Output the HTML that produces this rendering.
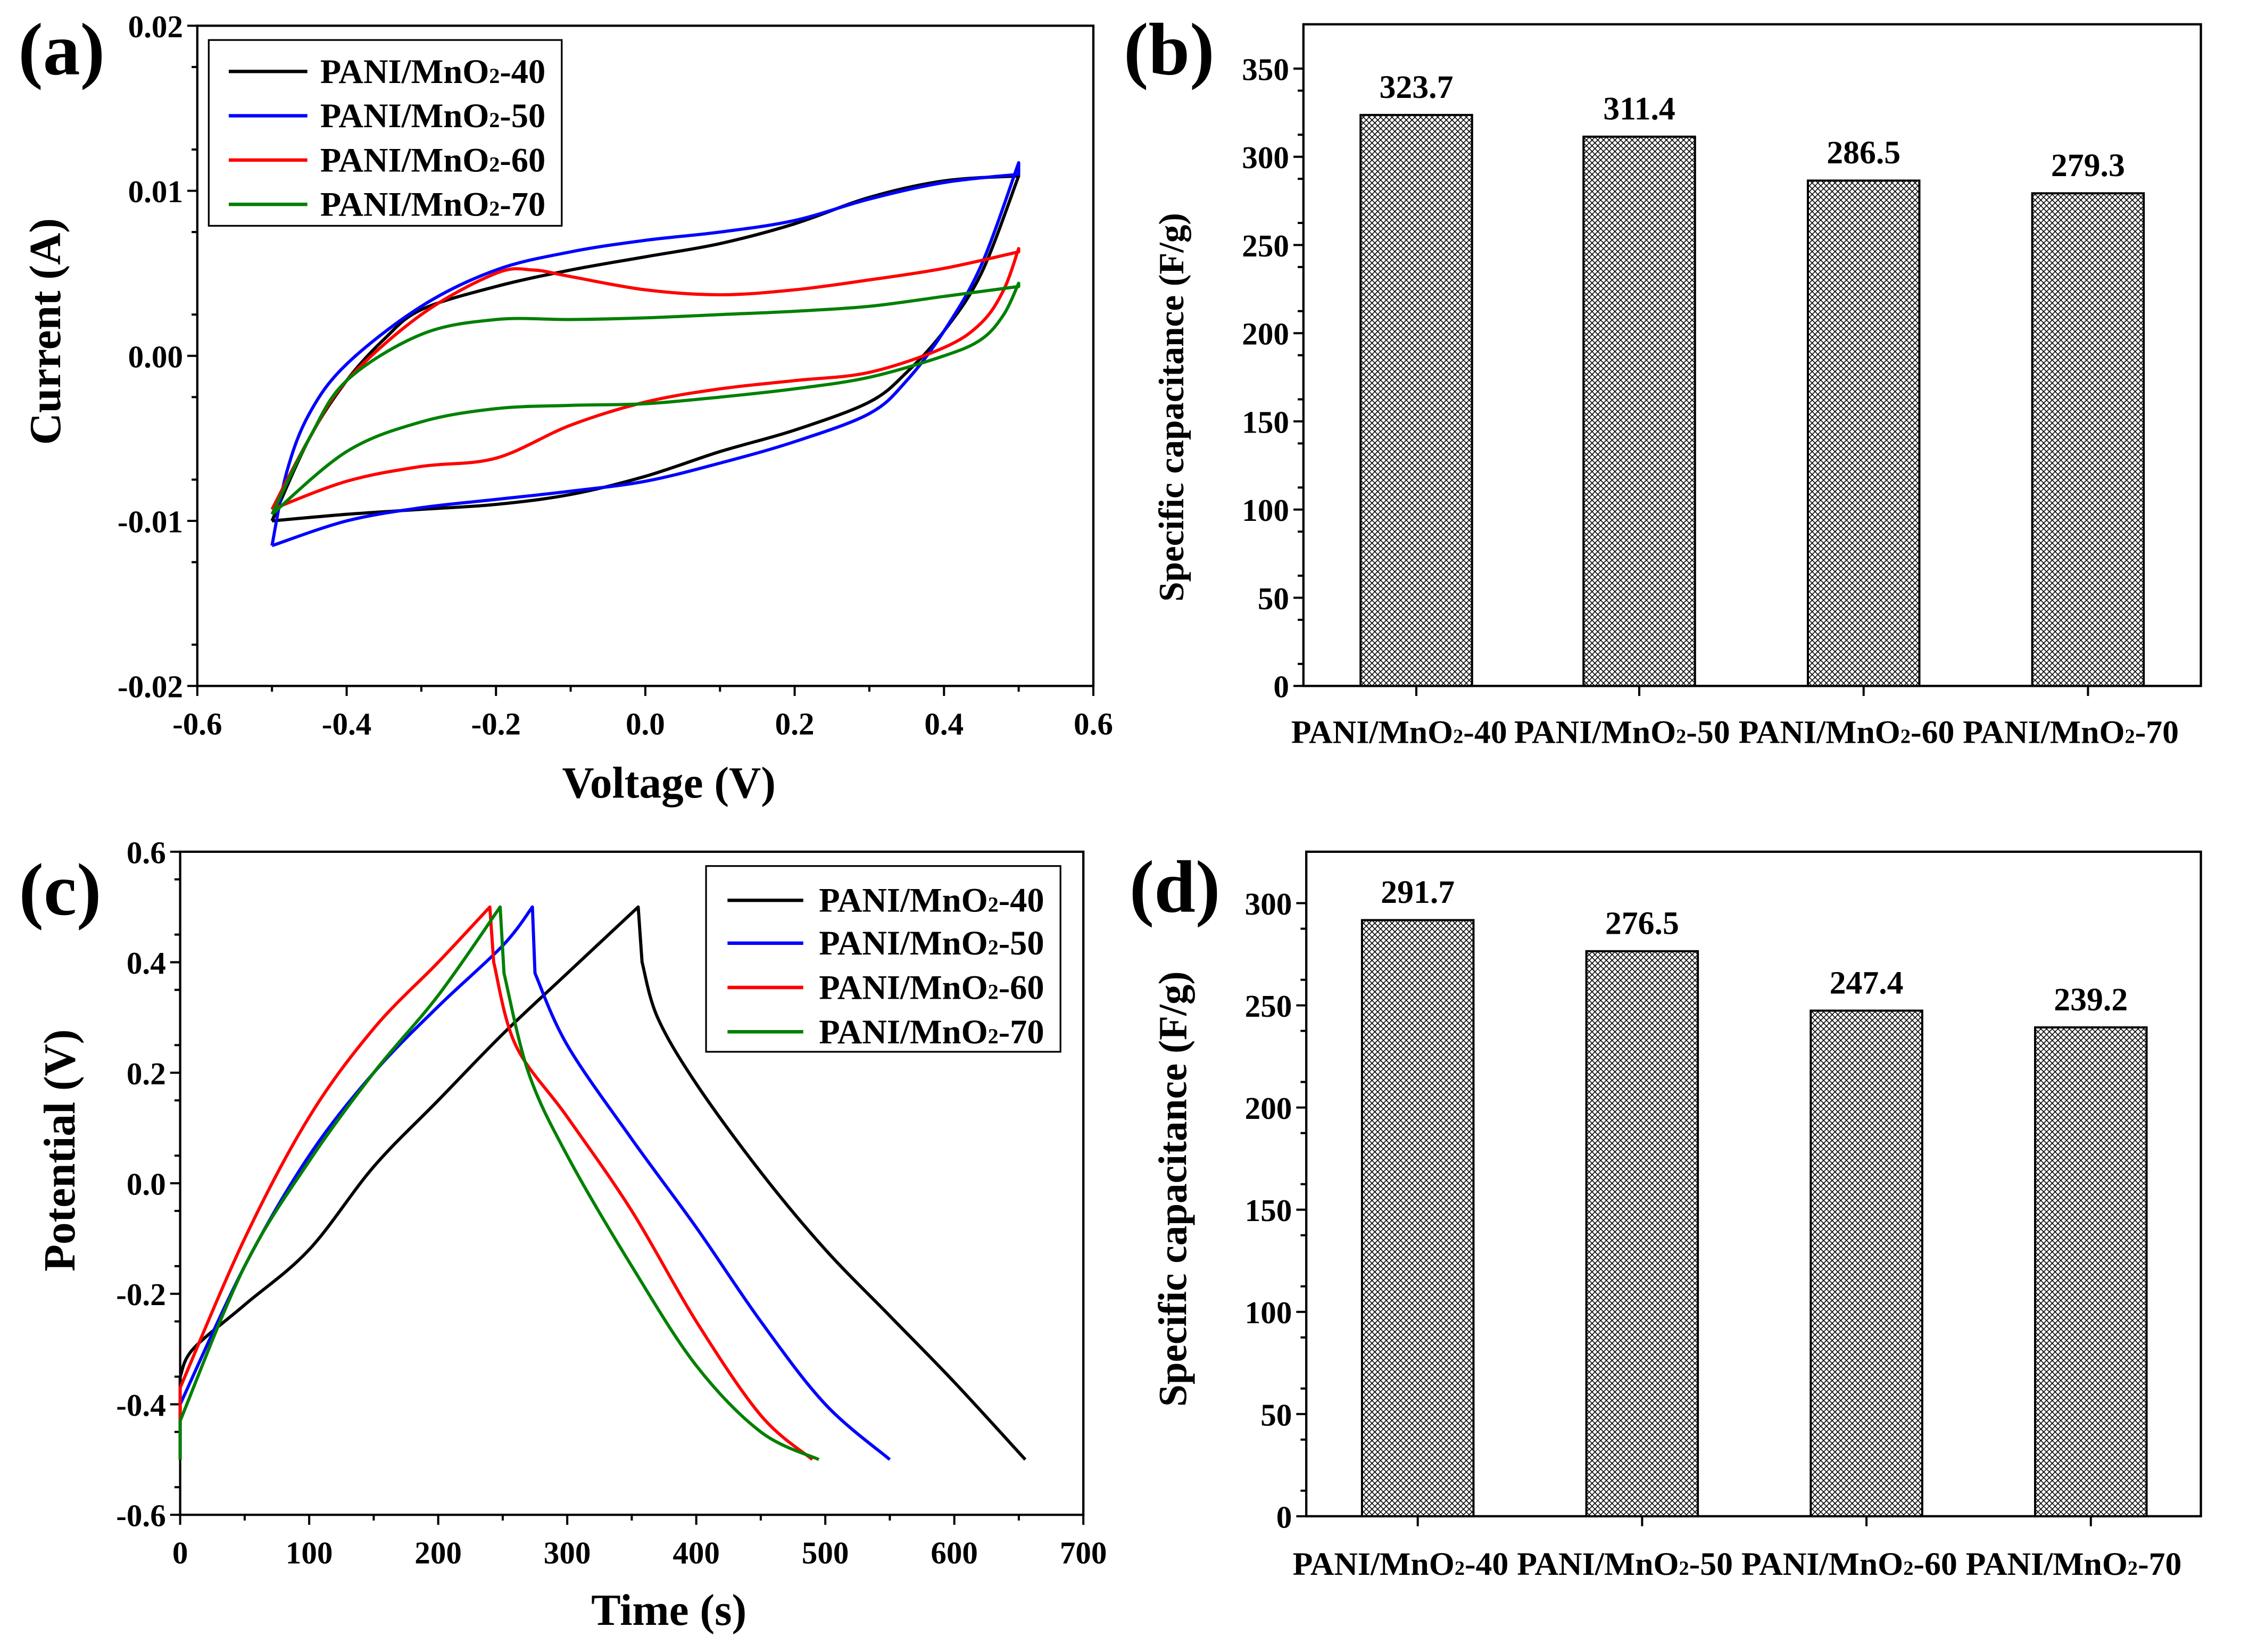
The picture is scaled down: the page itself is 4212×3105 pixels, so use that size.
<!DOCTYPE html>
<html><head><meta charset="utf-8"><style>html,body{margin:0;padding:0;background:#fff}svg{display:block}</style></head>
<body>
<svg id="fig" width="4212" height="3105" viewBox="0 0 1568 1156" xmlns="http://www.w3.org/2000/svg" font-family="'Liberation Serif', serif" font-weight="bold">
<defs>
<pattern id="hatch" patternUnits="userSpaceOnUse" width="4" height="4">
<rect width="4" height="4" fill="#fff"/>
<path d="M0,0 L4,4 M4,0 L0,4" stroke="#000" stroke-width="0.6"/>
</pattern>
</defs>
<rect width="1568" height="1156" fill="#fff"/>
</svg>
<script>
// ---- Data ----
const cvSeriesNames = ["PANI/MnO2-40","PANI/MnO2-50","PANI/MnO2-60","PANI/MnO2-70"];
const seriesColors = ["#000","#0000ff","#ff0000","#008000"];
const cv40 = [[-0.5,-10],[-0.45,-5],[-0.4,-1.5],[-0.35,1],[-0.3,2.8],[-0.2,4.2],[-0.1,5.2],[0,6],[0.1,6.8],[0.2,8],[0.3,9.6],[0.4,10.6],[0.5,10.9],[0.45,5],[0.4,1.5],[0.35,-1],[0.3,-2.8],[0.2,-4.5],[0.1,-5.8],[0,-7.3],[-0.1,-8.4],[-0.2,-9],[-0.3,-9.3],[-0.4,-9.6],[-0.5,-10]];
const cv50 = [[-0.5,-11.5],[-0.48,-7],[-0.45,-3.5],[-0.4,-0.5],[-0.3,3],[-0.2,5.2],[-0.1,6.3],[0,7],[0.1,7.5],[0.2,8.2],[0.3,9.5],[0.4,10.5],[0.5,11],[0.5,11.7],[0.45,5.5],[0.4,1.5],[0.35,-1.5],[0.3,-3.5],[0.2,-5.2],[0.1,-6.5],[0,-7.6],[-0.1,-8.2],[-0.2,-8.7],[-0.3,-9.2],[-0.4,-10],[-0.5,-11.5]];
const cv60 = [[-0.5,-9.3],[-0.45,-5],[-0.4,-1.5],[-0.3,2.5],[-0.2,5],[-0.15,5.2],[-0.1,4.8],[0,4],[0.1,3.7],[0.2,4],[0.3,4.6],[0.4,5.3],[0.5,6.3],[0.5,6.5],[0.48,4],[0.45,2],[0.4,0.5],[0.3,-1],[0.2,-1.5],[0.1,-2],[0,-2.8],[-0.1,-4.2],[-0.2,-6.2],[-0.3,-6.7],[-0.4,-7.6],[-0.5,-9.3]];
const cv70 = [[-0.5,-9.6],[-0.45,-5],[-0.4,-1.5],[-0.3,1.3],[-0.2,2.2],[-0.1,2.2],[0,2.3],[0.1,2.5],[0.2,2.7],[0.3,3],[0.4,3.6],[0.5,4.2],[0.5,4.4],[0.48,2.5],[0.45,1],[0.4,0],[0.3,-1.3],[0.2,-2],[0.1,-2.5],[0,-2.9],[-0.1,-3],[-0.2,-3.2],[-0.3,-4],[-0.4,-5.8],[-0.5,-9.6]];
const gcd40 = [[0,-0.5],[0,-0.35],[10,-0.3],[50,-0.22],[100,-0.12],[150,0.03],[200,0.15],[250,0.27],[300,0.38],[355,0.5],[358,0.4],[370,0.3],[400,0.18],[450,0.02],[500,-0.12],[550,-0.24],[600,-0.36],[655,-0.5]];
const gcd50 = [[0,-0.5],[0,-0.4],[50,-0.15],[100,0.05],[150,0.2],[200,0.32],[250,0.43],[273,0.5],[275,0.38],[300,0.25],[350,0.08],[400,-0.08],[450,-0.25],[500,-0.4],[550,-0.5]];
const gcd60 = [[0,-0.5],[0,-0.37],[50,-0.1],[100,0.12],[150,0.28],[200,0.4],[240,0.5],[243,0.4],[260,0.25],[300,0.12],[350,-0.05],[400,-0.25],[450,-0.42],[490,-0.5]];
const gcd70 = [[0,-0.5],[0,-0.43],[50,-0.15],[100,0.04],[150,0.2],[200,0.34],[248,0.5],[251,0.38],[270,0.2],[300,0.05],[350,-0.15],[400,-0.33],[450,-0.45],[495,-0.5]];
const barCategories = ["PANI/MnO2-40","PANI/MnO2-50","PANI/MnO2-60","PANI/MnO2-70"];
const barValuesB = [323.7,311.4,286.5,279.3];
const barValuesD = [291.7,276.5,247.4,239.2];
const ticksAx = [-0.6,-0.4,-0.2,0.0,0.2,0.4,0.6];
const ticksAy = [-0.02,-0.01,0.00,0.01,0.02];
const tickLabelsAy = ["-0.02","-0.01","0.00","0.01","0.02"];
const ticksBy = [0,50,100,150,200,250,300,350];
const ticksCx = [0,100,200,300,400,500,600,700];
const ticksCy = [-0.6,-0.4,-0.2,0.0,0.2,0.4,0.6];
const ticksDy = [0,50,100,150,200,250,300];

const NS="http://www.w3.org/2000/svg", svg=document.getElementById('fig');
const TICK=22;
function el(tag, attrs, parent){const e=document.createElementNS(NS,tag);for(const k in attrs)e.setAttribute(k,attrs[k]);(parent||svg).appendChild(e);return e;}
function txt(s,x,y,size,anchor,name,rot){const t=el('text',{x:x,y:y,'font-size':size,'text-anchor':anchor||'middle',fill:'#000'});


if(rot)t.setAttribute('transform','rotate(-90 '+x+' '+y+')');
if(s.indexOf('MnO2')>=0){const p=s.split('MnO2');t.appendChild(document.createTextNode(p[0]+'MnO'));const ts=el('tspan',{'font-size':size*0.62},t);ts.textContent='2';t.appendChild(document.createTextNode(p[1]));}else t.textContent=s;return t;}
function scale(d0,d1,r0,r1){return v=>r0+(v-d0)*(r1-r0)/(d1-d0);}
function frame(x0,y0,x1,y1,name){const r=el('rect',{x:x0,y:y0,width:x1-x0,height:y1-y0,fill:'none',stroke:'#000','stroke-width':1.6});

}
function tick(x1,y1,x2,y2,name){const l=el('line',{x1:x1,y1:y1,x2:x2,y2:y2,stroke:'#000','stroke-width':1.5});

}
function yTicks(vals,labels,ys,xl,minorStep,name){vals.forEach((v,i)=>{tick(xl,ys(v),xl-7,ys(v),name+'-tick');txt(labels[i],xl-10,ys(v)+8,TICK,'end',name+'-label');});
for(let v=vals[0];v<vals[vals.length-1]-1e-9;v+=minorStep){const m=v+minorStep/2;tick(xl,ys(m),xl-4,ys(m),name+'-minor-tick');}}
function xTicks(vals,labels,xs,yb,minorStep,name){vals.forEach((v,i)=>{tick(xs(v),yb,xs(v),yb+7,name+'-tick');txt(labels[i],xs(v),yb+34,TICK,'middle',name+'-label');});
for(let i=0;i<vals.length-1;i++){const m=vals[i]+minorStep;tick(xs(m),yb,xs(m),yb+4,name+'-minor-tick');}}
function smoothSeg(P){let d='';for(let i=1;i<P.length;i++){const p0=P[Math.max(i-2,0)],p1=P[i-1],p2=P[i],p3=P[Math.min(i+1,P.length-1)];const k=1/6;
d+=' C'+(p1[0]+(p2[0]-p0[0])*k).toFixed(2)+','+(p1[1]+(p2[1]-p0[1])*k).toFixed(2)+' '+(p2[0]-(p3[0]-p1[0])*k).toFixed(2)+','+(p2[1]-(p3[1]-p1[1])*k).toFixed(2)+' '+p2[0].toFixed(2)+','+p2[1].toFixed(2);}return d;}
// breaks: indices where the curve has a sharp corner (segments smoothed separately)
function line(pts,xs,ys,color,name,breaks){const P=pts.map(p=>[xs(p[0]),ys(p[1])]);let d='M'+P[0][0].toFixed(2)+','+P[0][1].toFixed(2);
const b=[0].concat(breaks,[P.length-1]);
for(let j=1;j<b.length;j++){const seg=P.slice(b[j-1],b[j]+1);d+=seg.length>2?smoothSeg(seg):' L'+seg[seg.length-1][0].toFixed(2)+','+seg[seg.length-1][1].toFixed(2);}
const p=el('path',{d:d,fill:'none',stroke:color,'stroke-width':2.2,'stroke-linejoin':'round'});

}
function cvBreaks(pts){const mx=Math.max(...pts.map(p=>p[0]));const idx=[];pts.forEach((p,i)=>{if(p[0]===mx)idx.push(i);});return idx;}
function gcdBreaks(pts){let im=0;pts.forEach((p,i)=>{if(p[1]>pts[im][1])im=i;});return [1,im,im+1];}
function legend(x0,y0,w,h,entryYs,lx0,lx1,tx,name){const r=el('rect',{x:x0,y:y0,width:w,height:h,fill:'#fff',stroke:'#000','stroke-width':1.2});


cvSeriesNames.forEach((n,i)=>{const l=el('line',{x1:lx0,y1:entryYs[i],x2:lx1,y2:entryYs[i],stroke:seriesColors[i],'stroke-width':2.4});


txt(n,tx,entryYs[i]+8,24,'start','legend-entry-'+(40+i*10));});}

// ---- Panel (a) ----
{const xs=scale(-0.6,0.6,138,765), ys=scale(-0.02,0.02,480,18);
frame(138,18,765,480,'panel-a-plot-area');
xTicks(ticksAx,ticksAx.map(v=>v.toFixed(1)),xs,480,0.1,'a-x-axis');
yTicks(ticksAy,tickLabelsAy,ys,138,0.005,'a-y-axis');
[cv40,cv50,cv60,cv70].forEach((s,i)=>line(s.map(p=>[p[0],p[1]/1000]),xs,ys,seriesColors[i],'cv-curve-'+(40+i*10),cvBreaks(s)));
legend(146,28,247,130,[50,81,112,143],160,215,224,'panel-a-legend');
txt('Voltage (V)',468,558,31,'middle','a-x-axis-title');
txt('Current (A)',42,232,31,'middle','a-y-axis-title',true);
txt('(a)',43,52,52,'middle','panel-a-label');}

// ---- Bar panels ----
function barPanel(vals,x0,x1,y0,y1,ymax,ticks,centers,name,catY){const ys=scale(0,ymax,y1,y0);
frame(x0,y0,x1,y1,name+'-plot-area');
yTicks(ticks,ticks.map(String),ys,x0,25,name+'-y-axis');
vals.forEach((v,i)=>{const b=el('rect',{x:centers[i]-39,y:ys(v),width:78,height:y1-ys(v),fill:'url(#hatch)',stroke:'#000','stroke-width':1.5});


tick(centers[i],y1,centers[i],y1+7,name+'-x-tick');
txt(v.toFixed(1),centers[i],ys(v)-12,23,'middle',name+'-value-label');
txt(barCategories[i],centers[i]-12,catY,23,'middle',name+'-category-label');});}
barPanel(barValuesB,912,1540,17,480,350*(480-17)/(480-48),ticksBy,[991,1147,1304,1461],'b',520);
txt('Specific capacitance (F/g)',828,285,25,'middle','b-y-axis-title',true);
txt('(b)',818,52,52,'middle','panel-b-label');

// ---- Panel (c) ----
{const xs=scale(0,700,126,758), ys=scale(-0.6,0.6,1060,596);
frame(126,596,758,1060,'panel-c-plot-area');
xTicks(ticksCx,ticksCx.map(String),xs,1060,50,'c-x-axis');
yTicks(ticksCy,ticksCy.map(v=>v.toFixed(1)),ys,126,0.1,'c-y-axis');
[gcd40,gcd50,gcd60,gcd70].forEach((s,i)=>line(s,xs,ys,seriesColors[i],'gcd-curve-'+(40+i*10),gcdBreaks(s)));
legend(494,606,248,130,[630,660,691,722],509,562,573,'panel-c-legend');
txt('Time (s)',468,1137,31,'middle','c-x-axis-title');
txt('Potential (V)',52,805,31,'middle','c-y-axis-title',true);
txt('(c)',42,640,52,'middle','panel-c-label');}

// ---- Panel (d) ----
barPanel(barValuesD,914,1540,596,1061,300*(1061-596)/(1061-632),ticksDy,[992,1149,1306,1463],'d',1102);
txt('Specific capacitance (F/g)',830,832,28,'middle','d-y-axis-title',true);
txt('(d)',822,638,52,'middle','panel-d-label');
</script>
</body></html>
